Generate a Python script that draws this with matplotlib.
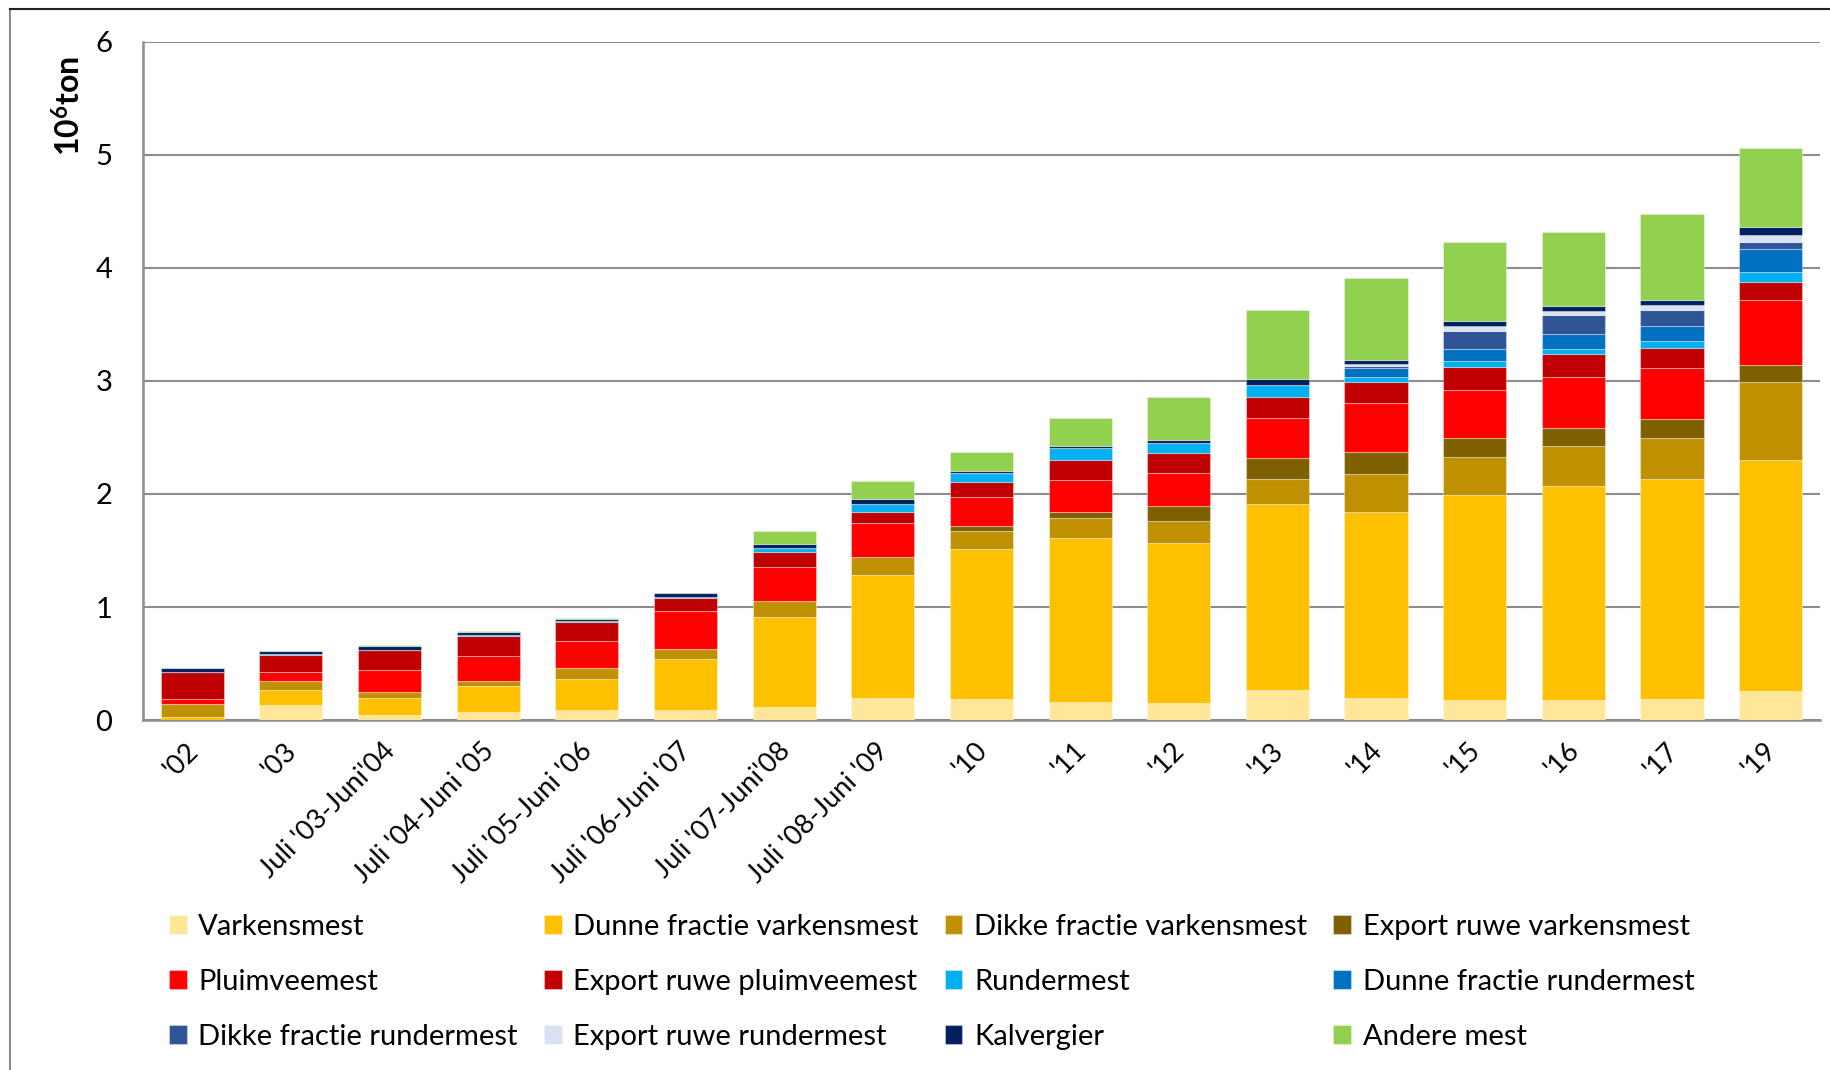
import numpy as np
import matplotlib
matplotlib.use("Agg")
import matplotlib.pyplot as plt
from matplotlib.lines import Line2D
from matplotlib.transforms import ScaledTranslation

plt.rcParams['font.family'] = ['Lato', 'DejaVu Sans']
plt.rcParams['mathtext.fontset'] = 'custom'
plt.rcParams['mathtext.bf'] = 'Lato:bold'
plt.rcParams['mathtext.rm'] = 'Lato'

# periodes
categories = ["'02", "'03", "Juli '03-Juni'04", "Juli '04-Juni '05",
              "Juli '05-Juni '06", "Juli '06-Juni '07", "Juli '07-Juni'08",
              "Juli '08-Juni '09", "'10", "'11", "'12", "'13", "'14",
              "'15", "'16", "'17", "'19"]

# verwerkte mest per mestsoort (10^6 ton)
varkensmest = [0.0, 0.135, 0.044, 0.068, 0.086, 0.089, 0.118, 0.198, 0.183,
               0.156, 0.147, 0.268, 0.195, 0.177, 0.177, 0.186, 0.255]
dunne_varkens = [0.03, 0.13, 0.15, 0.23, 0.278, 0.453, 0.79, 1.083, 1.327,
                 1.451, 1.419, 1.64, 1.648, 1.816, 1.897, 1.945, 2.045]
dikke_varkens = [0.115, 0.083, 0.056, 0.047, 0.098, 0.083, 0.142, 0.166, 0.162,
                 0.177, 0.198, 0.226, 0.336, 0.336, 0.354, 0.362, 0.69]
export_varkens = [0, 0, 0, 0, 0, 0, 0, 0, 0.044,
                  0.053, 0.133, 0.187, 0.192, 0.165, 0.156, 0.169, 0.155]
pluimveemest = [0.04, 0.077, 0.19, 0.22, 0.237, 0.343, 0.30, 0.30, 0.257,
                0.289, 0.292, 0.352, 0.437, 0.425, 0.452, 0.448, 0.569]
export_pluimvee = [0.24, 0.147, 0.177, 0.183, 0.169, 0.115, 0.133, 0.098, 0.133,
                   0.174, 0.174, 0.185, 0.183, 0.204, 0.201, 0.183, 0.159]
rundermest = [0, 0.015, 0.006, 0.008, 0.006, 0.008, 0.041, 0.068, 0.08,
              0.103, 0.086, 0.104, 0.042, 0.051, 0.042, 0.059, 0.09]
dunne_runder = [0, 0, 0, 0, 0, 0, 0, 0, 0,
                0, 0, 0, 0.078, 0.108, 0.135, 0.138, 0.207]
dikke_runder = [0, 0, 0, 0, 0, 0, 0, 0, 0,
                0, 0, 0, 0.018, 0.159, 0.165, 0.141, 0.059]
export_runder = [0, 0, 0, 0, 0, 0, 0, 0, 0,
                 0, 0, 0, 0.021, 0.042, 0.042, 0.041, 0.062]
kalvergier = [0.04, 0.027, 0.03, 0.027, 0.02, 0.03, 0.033, 0.044, 0.018,
              0.021, 0.027, 0.051, 0.039, 0.048, 0.039, 0.045, 0.066]
andere_mest = [0, 0, 0.01, 0.006, 0.009, 0.005, 0.115, 0.16, 0.168,
               0.251, 0.378, 0.614, 0.722, 0.698, 0.659, 0.755, 0.707]

series = [
    ("Varkensmest", varkensmest, "#FFE699"),
    ("Dunne fractie varkensmest", dunne_varkens, "#FFC000"),
    ("Dikke fractie varkensmest", dikke_varkens, "#BF9000"),
    ("Export ruwe varkensmest", export_varkens, "#7F6000"),
    ("Pluimveemest", pluimveemest, "#FF0000"),
    ("Export ruwe pluimveemest", export_pluimvee, "#C00000"),
    ("Rundermest", rundermest, "#00B0F0"),
    ("Dunne fractie rundermest", dunne_runder, "#0070C0"),
    ("Dikke fractie rundermest", dikke_runder, "#2F5597"),
    ("Export ruwe rundermest", export_runder, "#D9E1F2"),
    ("Kalvergier", kalvergier, "#002060"),
    ("Andere mest", andere_mest, "#92D050"),
]

fig = plt.figure(figsize=(18.31, 10.70), dpi=100)
ax = fig.add_axes([0.078, 0.327, 0.916, 0.634])

x = np.arange(len(categories))
bottom = np.zeros(len(categories))
handles = []
for name, vals, col in series:
    vals = np.array(vals, dtype=float)
    b = ax.bar(x, vals, 0.64, bottom=bottom, color=col,
               edgecolor=(1, 1, 1, 0.35), linewidth=0.8, zorder=3, label=name)
    handles.append(b)
    bottom += vals

ax.set_xlim(-0.5, len(categories) - 0.5)
ax.set_ylim(0, 6)
ax.set_yticks(range(7))
ax.yaxis.grid(True, color="#8c8c8c", linewidth=1.5, zorder=0)
ax.set_axisbelow(True)
for s in ["top", "right"]:
    ax.spines[s].set_visible(False)
for s in ["left", "bottom"]:
    ax.spines[s].set_color("#8c8c8c")
    ax.spines[s].set_linewidth(1.8)
ax.tick_params(axis="both", length=0, labelsize=21)
ax.tick_params(axis="y", pad=22)
ax.set_xticks(x)
ax.set_xticklabels(categories, rotation=45, ha="right", va="top",
                   rotation_mode="anchor", fontsize=19.5)
ax.tick_params(axis="x", pad=13)
shift = ScaledTranslation(-0.07, 0, fig.dpi_scale_trans)
for lbl in ax.get_xticklabels():
    lbl.set_transform(lbl.get_transform() + shift)

ax.set_ylabel(r"$\mathbf{10^{6}}$ton", fontsize=23, fontweight="bold")
ax.yaxis.set_label_coords(-0.034, 0.905)

# legenda: rijgewijs ordenen bij 4 kolommen
order = [0, 4, 8, 1, 5, 9, 2, 6, 10, 3, 7, 11]
fig.legend([handles[i] for i in order], [series[i][0] for i in order],
           ncol=4, loc="upper left", bbox_to_anchor=(0.086, 0.157),
           frameon=False, fontsize=21, handlelength=0.6, handleheight=0.6,
           handletextpad=0.4, columnspacing=0.9, labelspacing=1.0,
           borderaxespad=0)

# kader rond de figuur
fig.add_artist(Line2D([10 / 1831, 10 / 1831], [0, 1 - 9 / 1070],
                      transform=fig.transFigure, color="#8c8c8c", lw=1.5))
fig.add_artist(Line2D([10 / 1831, 1], [1 - 9 / 1070, 1 - 9 / 1070],
                      transform=fig.transFigure, color="#222222", lw=1.5))

fig.savefig("out.png", dpi=100)
